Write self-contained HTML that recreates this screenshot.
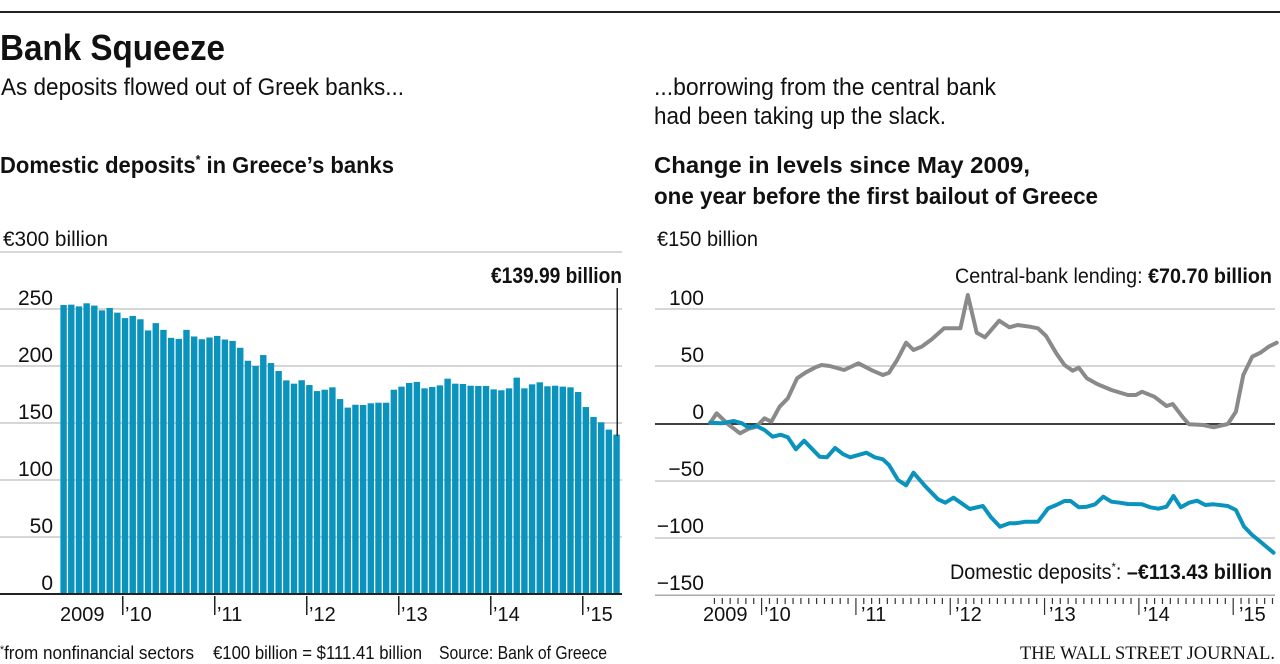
<!DOCTYPE html>
<html><head><meta charset="utf-8"><style>
html,body{margin:0;padding:0;background:#fff;}
svg{display:block;}
text{font-family:"Liberation Sans",sans-serif;fill:#111;}
</style></head><body>
<svg id="s" width="1280" height="664" viewBox="0 0 1280 664" xmlns="http://www.w3.org/2000/svg">
<rect x="0" y="11" width="1280" height="2" fill="#222"/>
<text x="0" y="60" font-size="36" font-weight="bold" textLength="225" lengthAdjust="spacingAndGlyphs">Bank Squeeze</text>
<text x="1" y="95" font-size="24" textLength="403" lengthAdjust="spacingAndGlyphs">As deposits flowed out of Greek banks...</text>
<text x="654" y="95" font-size="24" textLength="342" lengthAdjust="spacingAndGlyphs">...borrowing from the central bank</text>
<text x="654" y="124" font-size="24" textLength="292" lengthAdjust="spacingAndGlyphs">had been taking up the slack.</text>
<text x="0" y="173" font-size="23" font-weight="bold" textLength="394" lengthAdjust="spacingAndGlyphs">Domestic deposits<tspan font-size="13" dy="-9">*</tspan><tspan dy="9"> in Greece’s banks</tspan></text>
<text x="654" y="173" font-size="23" font-weight="bold" textLength="376" lengthAdjust="spacingAndGlyphs">Change in levels since May 2009,</text>
<text x="654" y="204" font-size="23" font-weight="bold" textLength="444" lengthAdjust="spacingAndGlyphs">one year before the first bailout of Greece</text>

<g id="left"></g>
<g id="right"></g>

<text x="3" y="246" font-size="21" textLength="105" lengthAdjust="spacingAndGlyphs">€300 billion</text>
<g font-size="21" text-anchor="end">
<text x="53" y="305">250</text><text x="53" y="362">200</text><text x="53" y="419">150</text>
<text x="53" y="476">100</text><text x="53" y="533">50</text><text x="53" y="590">0</text>
</g>
<text x="657" y="246" font-size="21" textLength="101" lengthAdjust="spacingAndGlyphs">€150 billion</text>
<g font-size="21" text-anchor="end">
<text x="704" y="305">100</text><text x="704" y="362">50</text><text x="704" y="419">0</text>
<text x="704" y="476">−50</text><text x="704" y="533">−100</text><text x="704" y="590">−150</text>
</g>

<text x="491" y="283" font-size="22" font-weight="bold" textLength="131" lengthAdjust="spacingAndGlyphs">€139.99 billion</text>
<rect x="616.5" y="288" width="1.5" height="148" fill="#222"/>
<text x="955" y="283" font-size="21" textLength="317" lengthAdjust="spacingAndGlyphs">Central-bank lending: <tspan font-weight="bold">€70.70 billion</tspan></text>
<text x="950" y="579" font-size="21" textLength="322" lengthAdjust="spacingAndGlyphs">Domestic deposits<tspan font-size="12" dy="-8">*</tspan><tspan dy="8">: </tspan><tspan font-weight="bold">–€113.43 billion</tspan></text>

<g font-size="20">
<text x="60" y="621">2009</text><text x="125" y="621">’10</text><text x="217" y="621">’11</text>
<text x="309" y="621">’12</text><text x="401" y="621">’13</text><text x="493" y="621">’14</text><text x="586" y="621">’15</text>
<text x="703" y="621">2009</text><text x="764" y="621">’10</text><text x="861" y="621">’11</text>
<text x="955" y="621">’12</text><text x="1049" y="621">’13</text><text x="1143" y="621">’14</text><text x="1239" y="621">’15</text>
</g>
<g font-size="18">
<text x="0" y="659" textLength="194" lengthAdjust="spacingAndGlyphs"><tspan font-size="11" dy="-6">*</tspan><tspan dy="6">from nonfinancial sectors</tspan></text>
<text x="213" y="659" textLength="209" lengthAdjust="spacingAndGlyphs">€100 billion = $111.41 billion</text>
<text x="439" y="659" textLength="168" lengthAdjust="spacingAndGlyphs">Source: Bank of Greece</text>
</g>
<text x="1020" y="659" font-size="19" textLength="255" lengthAdjust="spacingAndGlyphs" style="font-family:'Liberation Serif',serif">THE WALL STREET JOURNAL.</text>
</svg>
<script>
var NS="http://www.w3.org/2000/svg";
function el(p,t,a){var e=document.createElementNS(NS,t);for(var k in a)e.setAttribute(k,a[k]);p.appendChild(e);return e;}
var L=document.getElementById("left"),R=document.getElementById("right");
[252,309,366,423,480,537].forEach(function(y){el(L,"rect",{x:0,y:y-0.75,width:622,height:1.5,fill:"#c8c8c8"});});
var v=[253.5,253.8,252.3,255,253,248.8,250.9,246.8,242,243.9,241,231.2,237.6,231.7,224.7,223.8,231.7,225.9,223.5,225,226.4,223.2,222,216,204.6,200,209.6,202.6,195.6,187.4,184.5,187.5,183.3,178,179.2,181.3,171,163.5,166,165.8,167.3,167.8,167.8,179.2,181.9,185.1,186,180.4,181.6,183,188.9,184.5,184.2,182.7,182.5,182.5,179.5,178.7,180.4,189.8,180.4,183.9,185.7,182.2,182.7,181.9,181.3,177.2,164,155.3,150.6,144.2,139.8];
v.forEach(function(d,i){var h=d*1.14;el(L,"rect",{x:60.4+i*7.68,y:594-h,width:6.4,height:h,fill:"#0a93bd"});});
el(L,"rect",{x:0,y:593,width:622,height:2,fill:"#222"});
[122,214,306,398,490,582].forEach(function(x){el(L,"rect",{x:x,y:596,width:1.5,height:19,fill:"#222"});});
[309,366,481,538].forEach(function(y){el(R,"rect",{x:655,y:y-0.75,width:620,height:1.5,fill:"#c8c8c8"});});
el(R,"rect",{x:655,y:594.5,width:620,height:1.5,fill:"#aaa"});
for(var k=-8;k<=65;k++){var x=761+k*7.86;if(x<706||x>1276)continue;var yr=(k%12==0);el(R,"rect",{x:x,y:598,width:1.2,height:yr?17:6,fill:"#333"});}
el(R,"rect",{x:655,y:423.2,width:620,height:1.6,fill:"#111"});
function pl(pts,ox,oy,c){var s=pts.map(function(p){return (ox+p[0]/2.45).toFixed(1)+","+(oy+p[1]/3).toFixed(1);}).join(" ");el(R,"polyline",{points:s,fill:"none",stroke:c,"stroke-width":4,"stroke-linejoin":"round","stroke-linecap":"round"});}
var g=[[172,428],[188,400],[215,432],[245,460],[265,447],[285,440],[305,415],[322,425],[342,380],[362,355],[385,295],[405,278],[430,262],[445,255],[465,258],[500,270],[535,250],[570,272],[595,285],[610,278],[630,240],[652,188],[670,210],[690,200],[715,178],[745,145],[785,145],[803,45],[825,158],[845,172],[880,122],[905,142],[925,135],[955,140],[975,145],[995,168],[1020,220],[1040,255],[1060,272],[1075,263],[1095,295],[1120,312],[1155,330],[1195,345],[1215,345],[1230,335],[1260,350],[1290,378],[1305,372],[1330,412],[1345,433],[1380,435],[1405,442],[1440,432],[1460,395],[1478,285],[1500,230],[1520,218],[1540,200],[1560,188]];
var b=[[172,68],[200,70],[230,63],[250,70],[265,82],[285,78],[305,90],[325,110],[345,104],[362,112],[382,148],[402,122],[440,170],[458,172],[478,144],[498,163],[515,172],[555,158],[575,172],[595,178],[610,195],[632,240],[652,256],[670,218],[700,260],[730,298],[748,308],[768,293],[808,327],[840,318],[860,352],[882,380],[905,370],[920,370],[945,365],[975,365],[1000,325],[1020,315],[1040,303],[1055,303],[1075,322],[1095,320],[1115,313],[1135,290],[1155,305],[1175,308],[1195,312],[1230,313],[1250,322],[1270,326],[1290,320],[1307,288],[1325,322],[1345,308],[1365,302],[1385,315],[1405,313],[1440,318],[1460,330],[1480,380],[1500,405],[1520,425],[1552,458]];
pl(g,640,280,"#8a8a8a");
pl(b,640,400,"#0a93bd");
</script>
</body></html>
